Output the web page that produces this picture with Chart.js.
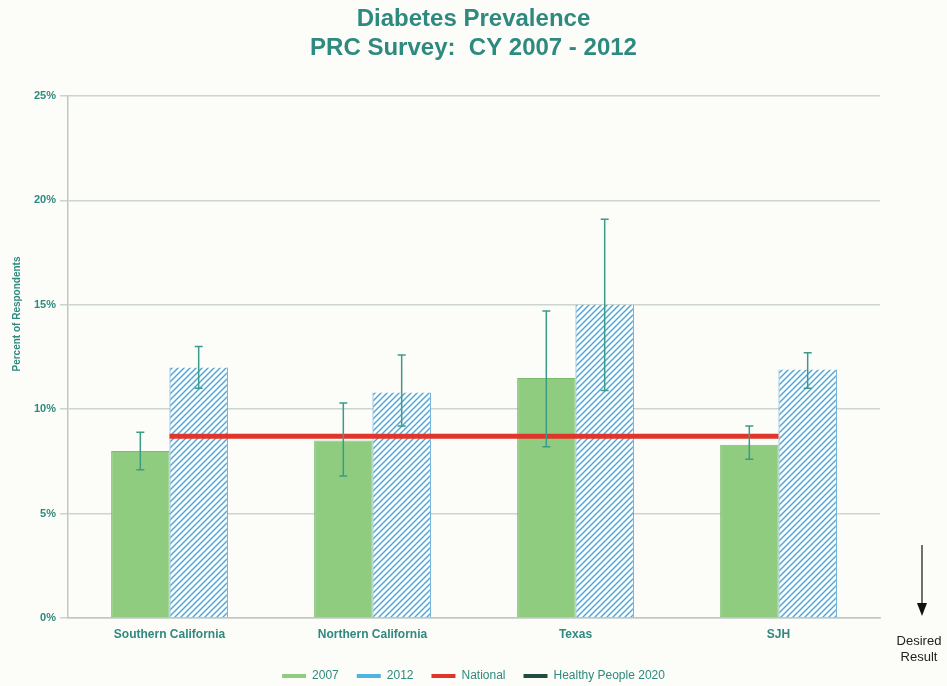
<!DOCTYPE html>
<html>
<head>
<meta charset="utf-8">
<script src="https://cdn.jsdelivr.net/npm/chart.js@4/dist/chart.umd.min.js"></script>
<style>
  html, body { margin: 0; padding: 0; background: #fcfcf9; }
  #wrap { width: 947px; height: 686px; position: relative; }
</style>
</head>
<body>
<div id="wrap"><canvas id="chart"></canvas></div>
<script>
const categories = ['Southern California', 'Northern California', 'Texas', 'SJH']
const values2007 = [8.0, 8.5, 11.5, 8.3]
const low2007 = [7.1, 6.8, 8.2, 7.6]
const high2007 = [8.9, 10.3, 14.7, 9.2]
const values2012 = [12.0, 10.8, 15.0, 11.9]
const low2012 = [11.0, 9.2, 10.9, 11.0]
const high2012 = [13.0, 12.6, 19.1, 12.7]
const national = [8.7, 8.7, 8.7, 8.7]
const healthyPeople = [null, null, null, null]
const yTicks = [0, 5, 10, 15, 20, 25]

const teal = '#2e8a7e'
const font = "'Liberation Sans', Arial, sans-serif"

// rayure bleue pour 2012
function hachures() {
  const c = document.createElement('canvas')
  c.width = 6
  c.height = 6
  const g = c.getContext('2d')
  g.fillStyle = '#ffffff'
  g.fillRect(0, 0, 6, 6)
  g.strokeStyle = '#55a6d6'
  g.lineWidth = 1.5
  g.beginPath()
  g.moveTo(-1, 7); g.lineTo(7, -1)
  g.moveTo(-4, 4); g.lineTo(4, -4)
  g.moveTo(2, 10); g.lineTo(10, 2)
  g.stroke()
  return g.createPattern(c, 'repeat')
}

const errorBars = {
  id: 'errorBars',
  afterDatasetsDraw(chart) {
    const { ctx, scales: { y } } = chart
    const sets = [[0, low2007, high2007], [1, low2012, high2012]]
    ctx.save()
    ctx.strokeStyle = '#3a9c86'
    ctx.lineWidth = 1.5
    sets.forEach(([idx, lo, hi]) => {
      chart.getDatasetMeta(idx).data.forEach((bar, i) => {
        const y1 = y.getPixelForValue(hi[i])
        const y2 = y.getPixelForValue(lo[i])
        ctx.beginPath()
        ctx.moveTo(bar.x, y1); ctx.lineTo(bar.x, y2)
        ctx.moveTo(bar.x - 4, y1); ctx.lineTo(bar.x + 4, y1)
        ctx.moveTo(bar.x - 4, y2); ctx.lineTo(bar.x + 4, y2)
        ctx.stroke()
      })
    })
    ctx.restore()
  }
}

const extras = {
  id: 'extras',
  afterDraw(chart) {
    const { ctx } = chart
    ctx.save()
    // titre de l'axe Y
    ctx.translate(17, 314)
    ctx.rotate(-Math.PI / 2)
    ctx.fillStyle = teal
    ctx.font = `bold 10px ${font}`
    ctx.textAlign = 'center'
    ctx.textBaseline = 'middle'
    ctx.fillText('Percent of Respondents', 0, 0)
    ctx.restore()

    // flèche "Desired Result"
    ctx.save()
    ctx.strokeStyle = '#111'
    ctx.fillStyle = '#111'
    ctx.lineWidth = 1.2
    ctx.beginPath()
    ctx.moveTo(922, 545); ctx.lineTo(922, 604)
    ctx.stroke()
    ctx.beginPath()
    ctx.moveTo(917, 603); ctx.lineTo(927, 603); ctx.lineTo(922, 616)
    ctx.closePath()
    ctx.fill()
    ctx.font = `13px ${font}`
    ctx.textAlign = 'center'
    ctx.textBaseline = 'middle'
    ctx.fillStyle = '#222'
    ctx.fillText('Desired', 919, 641)
    ctx.fillText('Result', 919, 657)
    ctx.restore()
  }
}

const legendColors = ['#8fcc80', '#4fb3e0', '#e0352b', '#1f4d40']

new Chart(document.getElementById('chart'), {
  type: 'bar',
  data: {
    labels: categories,
    datasets: [
      {
        label: '2007',
        data: values2007,
        backgroundColor: '#8fcc80',
        borderColor: '#7bbb6d',
        borderWidth: 1,
        categoryPercentage: 0.575,
        barPercentage: 1
      },
      {
        label: '2012',
        data: values2012,
        backgroundColor: hachures(),
        borderColor: '#4a9ccf',
        borderWidth: { left: 1, right: 1, top: 0, bottom: 0 },
        categoryPercentage: 0.575,
        barPercentage: 1
      },
      {
        type: 'line',
        label: 'National',
        data: national,
        borderColor: '#e0352b',
        backgroundColor: '#e0352b',
        borderWidth: 5,
        pointRadius: 0,
        order: -2
      },
      {
        type: 'line',
        label: 'Healthy People 2020',
        data: healthyPeople,
        borderColor: '#1f4d40',
        backgroundColor: '#1f4d40',
        borderWidth: 5,
        pointRadius: 0,
        order: -1
      }
    ]
  },
  options: {
    responsive: true,
    maintainAspectRatio: false,
    animation: false,
    layout: { padding: { left: 0, right: 0, top: 0, bottom: -6 } },
    plugins: {
      title: {
        display: true,
        text: ['Diabetes Prevalence', 'PRC Survey:  CY 2007 - 2012'],
        color: teal,
        font: { family: font, size: 24, weight: 'bold', lineHeight: 1.21 },
        padding: { top: 5, bottom: 33 }
      },
      legend: {
        position: 'bottom',
        labels: {
          boxWidth: 24,
          boxHeight: 4,
          padding: 18,
          color: teal,
          font: { family: font, size: 12 },
          sort: (a, b) => a.datasetIndex - b.datasetIndex,
          generateLabels(chart) {
            const items = Chart.defaults.plugins.legend.labels.generateLabels(chart)
            items.forEach(it => {
              it.fillStyle = legendColors[it.datasetIndex]
              it.strokeStyle = legendColors[it.datasetIndex]
              it.lineWidth = 0
              it.fontColor = teal
            })
            return items
          }
        }
      },
      tooltip: { enabled: false }
    },
    scales: {
      x: {
        grid: { display: false },
        border: { color: '#bfc7c0', width: 1.5 },
        afterFit: s => { s.height = 34 },
        ticks: {
          color: teal,
          padding: 1,
          font: { family: font, size: 12, weight: 'bold' }
        }
      },
      y: {
        min: 0,
        max: 25,
        afterFit: s => { s.width = 68 },
        afterBuildTicks: s => { s.ticks = yTicks.map(v => ({ value: v })) },
        grid: { color: '#cbd5ce', lineWidth: 1.5, tickLength: 8 },
        border: { color: '#bfc7c0', width: 1.5 },
        ticks: {
          color: teal,
          padding: 4,
          font: { family: font, size: 11, weight: 'bold' },
          callback: v => v + '%'
        }
      },
      // marge droite pour la flèche
      droite: {
        position: 'right',
        display: true,
        afterFit: s => { s.width = 67 },
        grid: { display: false },
        border: { display: false },
        ticks: { display: false }
      }
    }
  },
  plugins: [errorBars, extras]
})
</script>
</body>
</html>
